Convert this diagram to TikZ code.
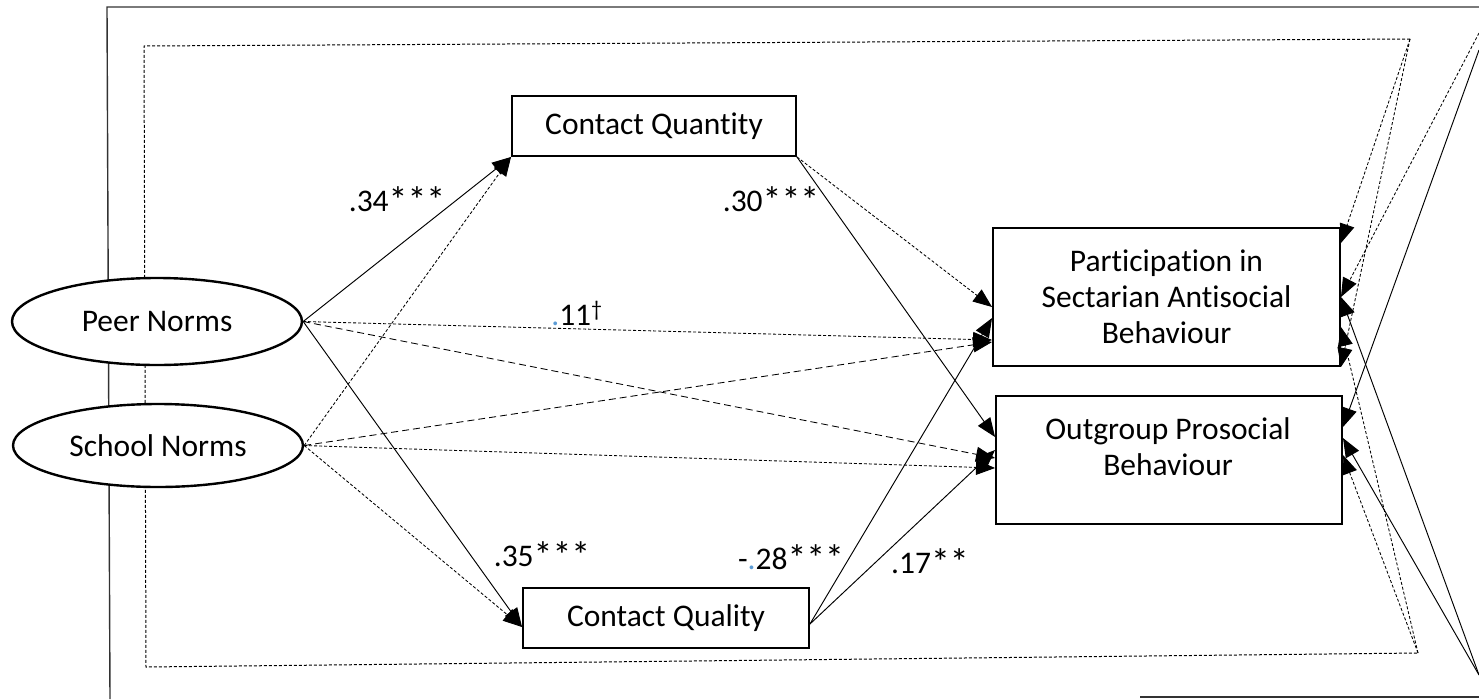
\documentclass[tikz,border=0pt]{standalone}
\usepackage{fontspec}
\usepackage{graphicx}
\setmainfont{Carlito}[Ligatures=NoCommon]
\usetikzlibrary{arrows.meta,shapes.geometric}
\definecolor{dotblue}{RGB}{91,155,213}
\definecolor{framegray}{RGB}{50,50,50}
\newcommand{\bigstar}{\raisebox{-0.1ex}{\scalebox{1.2}{*}}}
\newcommand{\stars}[1]{\foreach \i in {1,...,#1}{\bigstar}}
\begin{document}
\begin{tikzpicture}[x=1pt,y=-1pt,
  txt/.style={font=\fontsize{31.5}{36}\selectfont, inner sep=0pt},
  boxn/.style={draw, line width=1.9pt, fill=white, inner sep=0pt, align=center, font=\fontsize{31.5}{36}\selectfont},
  ellnode/.style={ellipse, draw, line width=2.4pt, fill=white, inner sep=0pt, font=\fontsize{31.5}{36}\selectfont},
  tip/.style={-{Triangle[length=19pt,width=15pt]}},
  sol/.style={tip, line width=0.95pt},
  dsh/.style={tip, line width=0.85pt, dash pattern=on 3pt off 2pt},
  dshl/.style={tip, line width=0.85pt, dash pattern=on 7pt off 4pt},
  framesol/.style={line width=1.4pt, draw=framegray},
  framedsh/.style={line width=1pt, dash pattern=on 3pt off 2pt}
]
\useasboundingbox (0,0) rectangle (1479,699);

% frame corners and entry points
\coordinate (sTR) at (1479,7);
\coordinate (sTL) at (107,7);
\coordinate (sBL) at (110,699);
\coordinate (sBa) at (1140,697);
\coordinate (sBb) at (1479,697);
\coordinate (dTL) at (144,46);
\coordinate (dTR) at (1410,39);
\coordinate (dBR) at (1418,653);
\coordinate (dBL) at (146,667);
\coordinate (rA) at (1479,33);
\coordinate (rB) at (1479,50);
\coordinate (rC) at (1479,675);

% frames
\draw[framesol] (sTR) -- (sTL) -- (sBL);
\draw[framesol] (sBa) -- (sBb);
\draw[framedsh] (dTR) -- (dTL) -- (dBL) -- (dBR);

% nodes
\node[ellnode, minimum width=290pt, minimum height=87pt] (peer) at (157,321.5) {Peer Norms};
\node[ellnode, minimum width=290pt, minimum height=83pt] (school) at (158,445.5) {School Norms};
\node[boxn, minimum width=284pt, minimum height=60pt] (cqn) at (654,126) {Contact Quantity};
\node[boxn, minimum width=286pt, minimum height=60pt] (cql) at (666,618) {Contact Quality};
\node[boxn, minimum width=347pt, minimum height=138pt] (part) at (1166.5,297) {Participation in\\Sectarian Antisocial\\Behaviour};
\node[boxn, minimum width=346pt, minimum height=128pt] (outg) at (1169,460) {};
\node[txt, align=center] (outgtxt) at (1168,447) {Outgroup Prosocial\\Behaviour};

% coefficient labels
\node[txt] (l34) at (397,200) {.34\stars{3}};
\node[txt] (l30) at (771,200) {.30\stars{3}};
\node[txt] (l11) at (577,313) {{\color{dotblue}.}11\textsuperscript{†}};
\node[txt] (l35) at (542,555) {.35\stars{3}};
\node[txt] (l28) at (791,558) {-{\color{dotblue}.}28\stars{3}};
\node[txt] (l17) at (930,562) {.17\stars{2}};

% Peer Norms paths
\draw[sol] (peer.east) -- (cqn.south west);
\draw[sol] (peer.east) -- ([yshift=-9pt]cql.west);
\draw[dsh] (peer.east) -- ([yshift=-43pt]part.west);
\draw[dshl] (peer.east) -- ([yshift=2pt]outg.west);

% School Norms paths
\draw[dsh] (school.east) -- (cqn.south west);
\draw[dsh] (school.east) -- ([yshift=-9pt]cql.west);
\draw[dshl] (school.east) -- ([yshift=-45pt]part.west);
\draw[dsh] (school.east) -- ([yshift=-8pt]outg.west);

% Contact Quantity paths
\draw[dsh] (cqn.south east) -- ([yshift=-10pt]part.west);
\draw[sol] (cqn.south east) -- ([yshift=23pt]outg.west);

% Contact Quality paths
\draw[sol] ([yshift=-6pt]cql.east) -- ([yshift=-21pt]part.west);
\draw[sol] ([yshift=-6pt]cql.east) -- ([yshift=10pt]outg.west);

% right-side frame connectors
\draw[dsh] (dTR) -- ([yshift=54pt]part.east);
\draw[dsh] (dTR) -- (part.south east);
\draw[dsh] (rA) -- (part.east);
\draw[sol] (rC) -- (part.east);
\draw[dsh] (dBR) -- ([yshift=-30pt]part.east);
\draw[sol] (rB) -- ([yshift=33pt]outg.east);
\draw[sol] (rC) -- ([yshift=22pt]outg.east);
\draw[dsh] (dBR) -- ([yshift=5pt]outg.east);
\end{tikzpicture}
\end{document}
